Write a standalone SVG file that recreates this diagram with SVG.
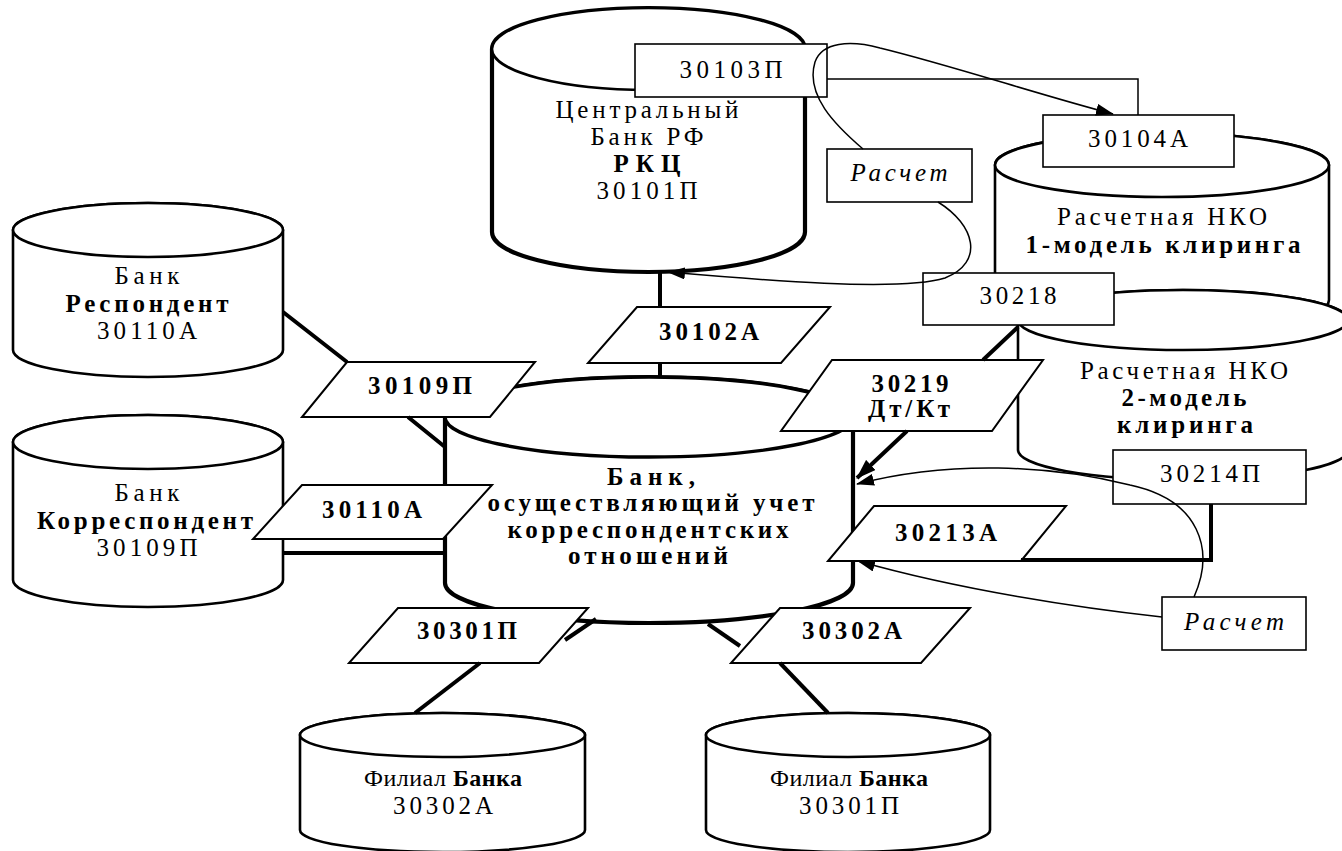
<svg xmlns="http://www.w3.org/2000/svg" width="1342" height="851" viewBox="0 0 1342 851">
<defs>
<style>
.cyl{fill:#fff;stroke:#000;stroke-width:2.6}
.cylT{fill:#fff;stroke:#000;stroke-width:4.2}
.box{fill:#fff;stroke:#000;stroke-width:1.6}
.par{fill:#fff;stroke:#000;stroke-width:2}
.t{font-family:"Liberation Serif","Times New Roman",serif;font-size:25px;fill:#000;text-anchor:middle}
.s{font-size:24px}
.b{font-weight:bold}
.i{font-style:italic}
.thick{fill:none;stroke:#000;stroke-width:4}
.thin{fill:none;stroke:#000;stroke-width:1.5}
</style>
<marker id="ah" markerUnits="userSpaceOnUse" markerWidth="18" markerHeight="12" refX="17" refY="6" orient="auto">
<path d="M0,0 L18,6 L0,12 Z" fill="#000"/>
</marker>
<marker id="ahB" markerUnits="userSpaceOnUse" markerWidth="20" markerHeight="14" refX="19" refY="7" orient="auto">
<path d="M0,0 L20,7 L0,14 Z" fill="#000"/>
</marker>
</defs>
<rect x="0" y="0" width="1342" height="851" fill="#fff"/>

<g id="n-cb">
<path class="cylT" d="M492,49 V232 A156.5 40 0 0 0 805,232 V49 A156.5 41 0 0 0 492,49 Z"/>
<ellipse cx="648.5" cy="49" rx="156.5" ry="41" fill="#fff" stroke="#000" stroke-width="2.6"/>
<text class="t" x="647" y="118" textLength="183" lengthAdjust="spacing">Центральный</text>
<text class="t" x="647" y="145" textLength="113" lengthAdjust="spacing">Банк РФ</text>
<text class="t b" x="647" y="172" textLength="67" lengthAdjust="spacing">РКЦ</text>
<text class="t" x="647" y="199" textLength="101" lengthAdjust="spacing">30101П</text>
</g>

<g id="n-resp">
<path class="cyl" d="M13,230 V350 A135 27 0 0 0 283,350 V230 A135 27 0 0 0 13,230 Z"/>
<ellipse class="cyl" cx="148" cy="230" rx="135" ry="27"/>
<text class="t" x="147" y="284" textLength="65" lengthAdjust="spacing">Банк</text>
<text class="t b" x="147" y="312" textLength="163" lengthAdjust="spacing">Респондент</text>
<text class="t" x="147" y="339" textLength="100" lengthAdjust="spacing">30110А</text>
</g>

<g id="n-corr">
<path class="cyl" d="M13,442 V580 A135 27 0 0 0 283,580 V442 A135 27 0 0 0 13,442 Z"/>
<ellipse class="cyl" cx="148" cy="442" rx="135" ry="27"/>
<text class="t" x="147" y="501" textLength="65" lengthAdjust="spacing">Банк</text>
<text class="t b" x="145" y="529" textLength="216" lengthAdjust="spacing">Корреспондент</text>
<text class="t" x="147" y="556" textLength="101" lengthAdjust="spacing">30109П</text>
</g>

<g id="n-central">
<path class="cylT" d="M445,417 V583 A204 40 0 0 0 853,583 V417 A204 40 0 0 0 445,417 Z"/>
<ellipse cx="649" cy="417" rx="204" ry="40" fill="#fff" stroke="#000" stroke-width="3.4"/>
<text class="t b" x="651" y="485" textLength="88" lengthAdjust="spacing">Банк,</text>
<text class="t b" x="651" y="511" textLength="327" lengthAdjust="spacing">осуществляющий учет</text>
<text class="t b" x="648" y="538" textLength="281" lengthAdjust="spacing">корреспондентских</text>
<text class="t b" x="648" y="564" textLength="160" lengthAdjust="spacing">отношений</text>
</g>

<g id="n-nko1">
<path class="cyl" d="M995,165 V300 A167 32 0 0 0 1329,300 V165 A167 32 0 0 0 995,165 Z"/>
<ellipse class="cyl" cx="1162" cy="165" rx="167" ry="32"/>
<text class="t" x="1162" y="225" textLength="210" lengthAdjust="spacing">Расчетная НКО</text>
<text class="t b" x="1163" y="253" textLength="275" lengthAdjust="spacing">1-модель клиринга</text>
</g>

<g id="n-nko2">
<path class="cyl" d="M1018,320 V450 A165 30 0 0 0 1348,450 V320 A165 30 0 0 0 1018,320 Z"/>
<ellipse class="cyl" cx="1183" cy="320" rx="165" ry="30"/>
<text class="t" x="1184" y="379" textLength="208" lengthAdjust="spacing">Расчетная НКО</text>
<text class="t b" x="1184" y="406" textLength="125" lengthAdjust="spacing">2-модель</text>
<text class="t b" x="1185" y="433" textLength="136" lengthAdjust="spacing">клиринга</text>
</g>

<g id="n-fil1">
<path class="cyl" d="M300,735 V830 A142.5 22 0 0 0 585,830 V735 A142.5 22 0 0 0 300,735 Z"/>
<ellipse class="cyl" cx="442.5" cy="735" rx="142.5" ry="22"/>
<text class="t s" x="443" y="786" textLength="158" lengthAdjust="spacing">Филиал <tspan class="b">Банка</tspan></text>
<text class="t" x="443" y="814" textLength="100" lengthAdjust="spacing">30302А</text>
</g>

<g id="n-fil2">
<path class="cyl" d="M706,735 V830 A142 22 0 0 0 990,830 V735 A142 22 0 0 0 706,735 Z"/>
<ellipse class="cyl" cx="848" cy="735" rx="142" ry="22"/>
<text class="t s" x="849" y="786" textLength="158" lengthAdjust="spacing">Филиал <tspan class="b">Банка</tspan></text>
<text class="t" x="849" y="814" textLength="100" lengthAdjust="spacing">30301П</text>
</g>

<g id="b-30103">
<rect class="box" x="635" y="44" width="192" height="53"/>
<text class="t" x="731" y="78" textLength="103" lengthAdjust="spacing">30103П</text>
</g>
<g id="b-raschet1">
<rect class="box" x="827" y="149" width="145" height="53"/>
<text class="t i" x="899" y="181" textLength="97" lengthAdjust="spacing">Расчет</text>
</g>
<g id="b-30104">
<rect class="box" x="1043" y="115" width="191" height="52"/>
<text class="t" x="1138" y="147" textLength="100" lengthAdjust="spacing">30104А</text>
</g>
<g id="b-30218">
<rect class="box" x="923" y="273" width="191" height="52"/>
<text class="t" x="1018" y="304" textLength="77" lengthAdjust="spacing">30218</text>
</g>
<g id="b-30214">
<rect class="box" x="1113" y="450" width="193" height="54"/>
<text class="t" x="1210" y="482" textLength="100" lengthAdjust="spacing">30214П</text>
</g>
<g id="b-raschet2">
<rect class="box" x="1162" y="597" width="144" height="53"/>
<text class="t i" x="1234" y="630" textLength="100" lengthAdjust="spacing">Расчет</text>
</g>

<g id="p-30102">
<polygon class="par" points="637,307 830,307 781,363 588,363"/>
<text class="t b" x="709" y="340" textLength="100" lengthAdjust="spacing">30102А</text>
</g>
<g id="p-30109">
<polygon class="par" points="347,362 535,362 490,417 302,417"/>
<text class="t b" x="420" y="394" textLength="104" lengthAdjust="spacing">30109П</text>
</g>
<g id="p-30110">
<polygon class="par" points="302,485 492,485 443,539 253,539"/>
<text class="t b" x="372" y="518" textLength="100" lengthAdjust="spacing">30110А</text>
</g>
<g id="p-30219">
<polygon class="par" points="832,360 1043,360 992,431 781,431"/>
<text class="t b" x="910" y="392" textLength="77" lengthAdjust="spacing">30219</text>
<text class="t b" x="909" y="417" textLength="82" lengthAdjust="spacing">Дт/Кт</text>
</g>
<g id="p-30213">
<polygon class="par" points="874,506 1066,506 1021,561 828,561"/>
<text class="t b" x="946" y="541" textLength="102" lengthAdjust="spacing">30213А</text>
</g>
<g id="p-30301">
<polygon class="par" points="398,608 588,608 539,663 349,663"/>
<text class="t b" x="467" y="639" textLength="100" lengthAdjust="spacing">30301П</text>
</g>
<g id="p-30302">
<polygon class="par" points="780,608 970,608 921,663 731,663"/>
<text class="t b" x="852" y="639" textLength="100" lengthAdjust="spacing">30302А</text>
</g>

<g id="connectors">
<path class="thick" d="M660,272 V307 M660,363 V377"/>
<path class="thick" d="M283,312 L347,362 M408,417 L445,447"/>
<path class="thick" d="M283,553 H445"/>
<path class="thick" d="M1211,504 V560 H1021"/>
<path class="thick" d="M1018,327 L983,360"/>
<path class="thick" d="M907,431 L857,478" marker-end="url(#ahB)"/>
<path class="thick" d="M596,619 L565,640"/>
<path class="thick" d="M480,663 L415,713"/>
<path class="thick" d="M708,624 L740,646"/>
<path class="thick" d="M780,663 L828,713"/>
<path class="thin" d="M827,79 H1138 V115"/>
<path class="thin" d="M863,149 C835,125 805,95 815,62 C822,42 850,40 880,48 C950,65 1040,95 1113,114" marker-end="url(#ah)"/>
<path class="thin" d="M938,202 C975,225 985,262 945,278 C900,292 760,280 668,272" marker-end="url(#ah)"/>
<path class="thin" d="M1194,597 C1215,550 1200,500 1130,485 C1050,465 950,460 857,484" marker-end="url(#ah)"/>
<path class="thin" d="M1162,617 C1080,608 960,590 858,561" marker-end="url(#ah)"/>
</g>
</svg>
